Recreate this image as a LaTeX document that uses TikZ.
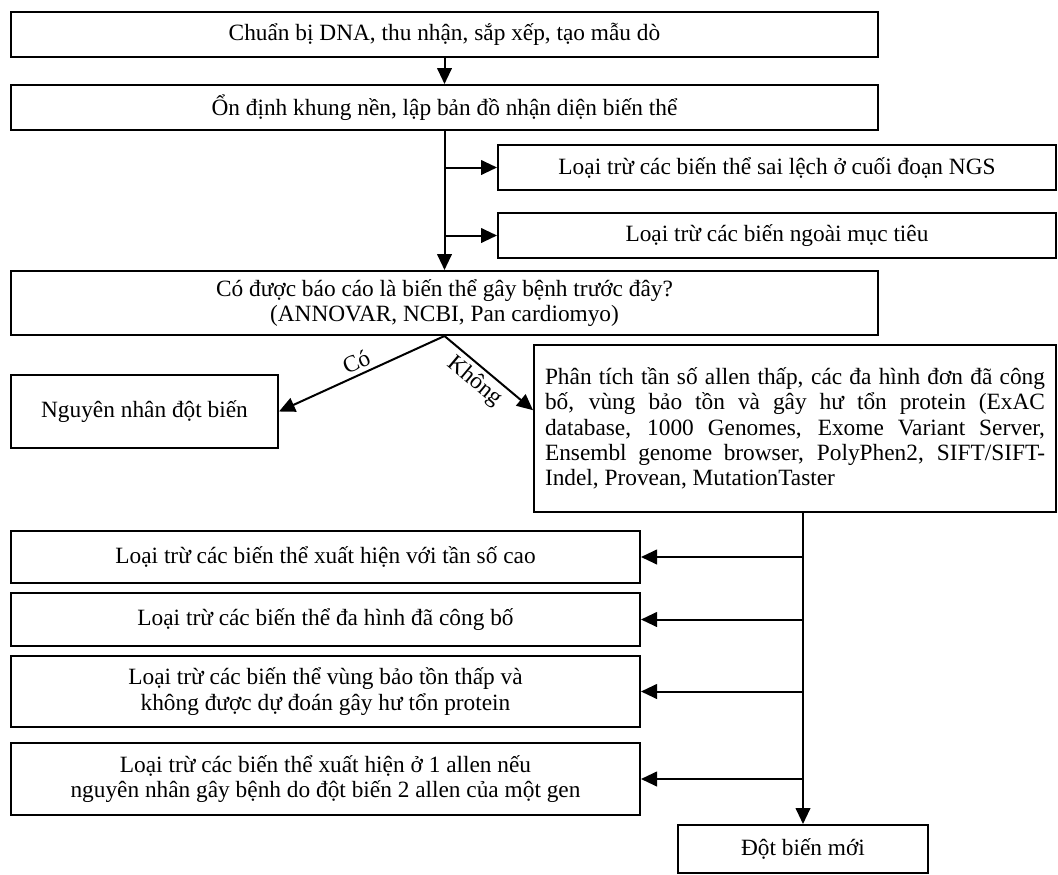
\documentclass[tikz,border=0pt]{standalone}
\usepackage{fontspec}
\setmainfont{Liberation Serif}
\usetikzlibrary{arrows.meta}

\tikzset{every picture/.style={line width=1.5pt}}
\tikzset{
  stepbox/.style={draw, rectangle, line width=1.5pt, inner sep=6pt, align=center,
    font=\fontsize{17.5}{19}\selectfont},
  flow/.style={line width=1.5pt, -{Triangle[length=12pt,width=11pt]}},
  branchlbl/.style={font=\fontsize{17.5}{19}\selectfont, inner sep=3pt}
}

\begin{document}
\begin{tikzpicture}[x=0.75pt,y=0.75pt,yscale=-1,xscale=1]
\useasboundingbox (0,0) rectangle (1058,875);

%Shape: Rectangle [id:prep]
\node[stepbox, minimum width=650.25pt, minimum height=33.75pt] (prep) at (444.5,34.5) {Chuẩn bị DNA, thu nhận, sắp xếp, tạo mẫu dò};
%Shape: Rectangle [id:map]
\node[stepbox, minimum width=650.25pt, minimum height=33.75pt] (map) at (444.5,107.5) {Ổn định khung nền, lập bản đồ nhận diện biến thể};
%Shape: Rectangle [id:ngs]
\node[stepbox, minimum width=418.5pt, minimum height=33.75pt] (ngs) at (777,167.5) {Loại trừ các biến thể sai lệch ở cuối đoạn NGS};
%Shape: Rectangle [id:offt]
\node[stepbox, minimum width=418.5pt, minimum height=33.75pt] (offt) at (777,235.5) {Loại trừ các biến ngoài mục tiêu};
%Shape: Rectangle [id:report]
\node[stepbox, minimum width=650.25pt, minimum height=48pt] (report) at (444.5,303) {Có được báo cáo là biến thể gây bệnh trước đây?\\(ANNOVAR, NCBI, Pan cardiomyo)};
%Shape: Rectangle [id:cause]
\node[stepbox, minimum width=200.25pt, minimum height=54.75pt] (cause) at (144.5,411.5) {Nguyên nhân đột biến};
%Shape: Rectangle [id:anal]
\node[stepbox, minimum width=391.5pt, minimum height=125.25pt, text width=375pt, align=justify] (anal) at (795,428.5) {Phân tích tần số allen thấp, các đa hình đơn đã công\linebreak bố, vùng bảo tồn và gây hư tổn protein (ExAC\linebreak database, 1000 Genomes, Exome Variant Server,\linebreak Ensembl genome browser, PolyPhen2, SIFT/SIFT-\linebreak Indel, Provean, MutationTaster\par};
%Shape: Rectangle [id:freq]
\node[stepbox, minimum width=471.75pt, minimum height=39pt] (freq) at (325.5,557) {Loại trừ các biến thể xuất hiện với tần số cao};
%Shape: Rectangle [id:poly]
\node[stepbox, minimum width=471.75pt, minimum height=39.75pt] (poly) at (325.5,619.5) {Loại trừ các biến thể đa hình đã công bố};
%Shape: Rectangle [id:cons]
\node[stepbox, minimum width=471.75pt, minimum height=53.25pt] (cons) at (325.5,691.5) {Loại trừ các biến thể vùng bảo tồn thấp và\\không được dự đoán gây hư tổn protein};
%Shape: Rectangle [id:allele]
\node[stepbox, minimum width=471.75pt, minimum height=54pt] (allele) at (325.5,779) {Loại trừ các biến thể xuất hiện ở 1 allen nếu\\nguyên nhân gây bệnh do đột biến 2 allen của một gen};
%Shape: Rectangle [id:novel]
\node[stepbox, minimum width=187.5pt, minimum height=36pt] (novel) at (803,849) {Đột biến mới};

\draw[flow] (prep) -- (map);
\draw[flow] (map) -- (report);
\draw[flow] (map.south |- ngs) -- (ngs);
\draw[flow] (map.south |- offt) -- (offt);

\draw[flow] (report.south) -- node[branchlbl, pos=0.5, anchor=south, rotate=24.7] {Có} (cause.east);
\draw[flow] (report.south) -- node[branchlbl, pos=0.45, anchor=north, rotate=-40] {Không} (anal.176);

\draw[flow] (anal.south -| novel) -- (novel);
\draw[flow] (novel |- freq) -- (freq);
\draw[flow] (novel |- poly) -- (poly);
\draw[flow] (novel |- cons) -- (cons);
\draw[flow] (novel |- allele) -- (allele);

\end{tikzpicture}
\end{document}
